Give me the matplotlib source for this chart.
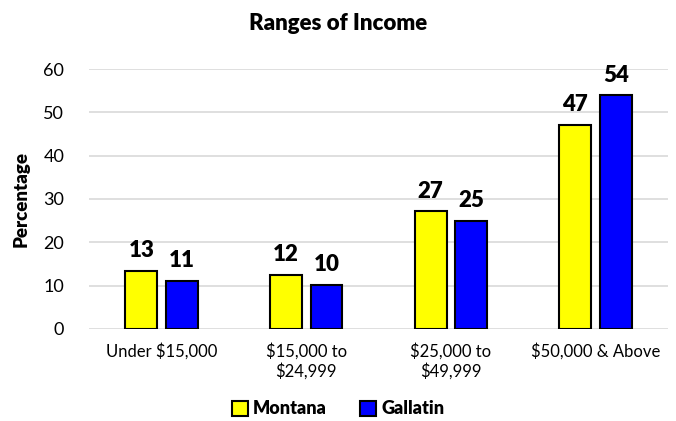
import numpy as np
from matplotlib import pyplot as plt
from matplotlib.patches import Patch

plt.rcParams['font.family'] = ['Lato', 'DejaVu Sans']

categories = ['Under $15,000', '$15,000 to\n$24,999', '$25,000 to\n$49,999', '$50,000 & Above']
montana = [13.3, 12.4, 27.1, 47.1]
gallatin = [11.1, 10.2, 24.9, 53.9]
montana_labels = ['13', '12', '27', '47']
gallatin_labels = ['11', '10', '25', '54']

fig = plt.figure(figsize=(6.76, 4.21), dpi=100)
ax = fig.add_axes([0.132, 0.219, 0.856, 0.617])

x = np.arange(len(categories))
w = 0.22
off = 0.14
b1 = ax.bar(x - off, montana, w, color='#ffff00', edgecolor='black', linewidth=1.5, zorder=3)
b2 = ax.bar(x + off, gallatin, w, color='#0000ff', edgecolor='black', linewidth=1.5, zorder=3)

ax.bar_label(b1, labels=montana_labels, padding=7, fontsize=16, fontweight='heavy')
ax.bar_label(b2, labels=gallatin_labels, padding=7, fontsize=16, fontweight='heavy')

ax.set_ylim(0, 60)
ax.set_xlim(-0.5, 3.5)
ax.set_yticks(range(0, 61, 10))
ax.set_xticks(x)
ax.set_xticklabels(categories, fontsize=12)
ax.tick_params(axis='y', labelsize=13, length=0, pad=18)
ax.tick_params(axis='x', length=0, pad=10)
ax.grid(axis='y', color='#d9d9d9', linewidth=1.2, zorder=0)
for s in ax.spines.values():
    s.set_visible(False)

ax.set_ylabel('Percentage', fontsize=13.5, fontweight='heavy', labelpad=10)
fig.suptitle('Ranges of Income', fontsize=16, fontweight='heavy', x=0.5, y=0.97)

handles = [Patch(facecolor='#ffff00', edgecolor='black', linewidth=1.5, label='Montana'),
           Patch(facecolor='#0000ff', edgecolor='black', linewidth=1.5, label='Gallatin')]
fig.legend(handles=handles, loc='lower center', bbox_to_anchor=(0.5, -0.03), ncol=2, frameon=False,
           prop={'weight': 'heavy', 'size': 13}, handlelength=0.9, handleheight=0.9,
           handletextpad=0.3, columnspacing=1.8)

fig.savefig('out.png', dpi=100)
